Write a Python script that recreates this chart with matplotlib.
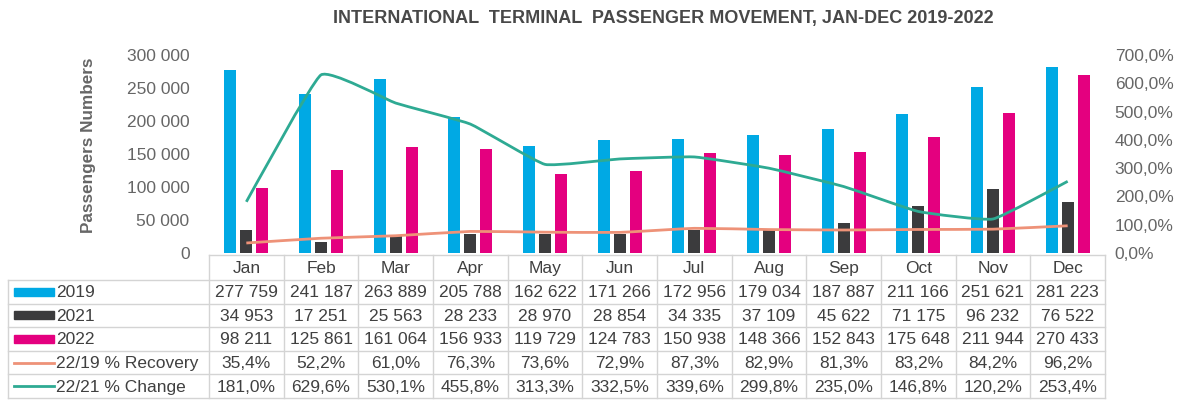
import numpy as np
import matplotlib.pyplot as plt
from matplotlib.path import Path
from matplotlib.patches import PathPatch, Rectangle
from matplotlib.lines import Line2D

plt.rcParams['font.family'] = ['Liberation Sans', 'DejaVu Sans']

months = ["Jan", "Feb", "Mar", "Apr", "May", "Jun", "Jul", "Aug", "Sep", "Oct", "Nov", "Dec"]
pax_2019 = [277759, 241187, 263889, 205788, 162622, 171266, 172956, 179034, 187887, 211166, 251621, 281223]
pax_2021 = [34953, 17251, 25563, 28233, 28970, 28854, 34335, 37109, 45622, 71175, 96232, 76522]
pax_2022 = [98211, 125861, 161064, 156933, 119729, 124783, 150938, 148366, 152843, 175648, 211944, 270433]
recovery = [35.4, 52.2, 61.0, 76.3, 73.6, 72.9, 87.3, 82.9, 81.3, 83.2, 84.2, 96.2]
change = [181.0, 629.6, 530.1, 455.8, 313.3, 332.5, 339.6, 299.8, 235.0, 146.8, 120.2, 253.4]

C_2019 = "#00A9E4"
C_2021 = "#3B3B3D"
C_2022 = "#E4007F"
C_REC = "#EE9278"
C_CHG = "#2EAA93"
TXT = "#404040"
GRID = "#D4D4D4"

W, H = 1181, 404


def fx(x):
    return x / W


def fy(y):
    return 1 - y / H


def fmt_num(v):
    return f"{v:,}".replace(",", " ")


def fmt_pct(v):
    return f"{v:.1f}%".replace(".", ",")


def smooth_path(xs, ys, k=0.06):
    # lightly smoothed line through the points (bezier segments)
    pts = np.column_stack([xs, ys]).astype(float)
    n = len(pts)
    verts = [pts[0]]
    codes = [Path.MOVETO]
    for i in range(n - 1):
        p0 = pts[i - 1] if i > 0 else pts[i]
        p1 = pts[i]
        p2 = pts[i + 1]
        p3 = pts[i + 2] if i + 2 < n else pts[i + 1]
        c1 = p1 + (p2 - p0) * k
        c2 = p2 - (p3 - p1) * k
        verts += [c1, c2, p2]
        codes += [Path.CURVE4] * 3
    return Path(verts, codes)


fig = plt.figure(figsize=(W / 100, H / 100), dpi=100)
ax = fig.add_axes([fx(209), fy(253), 896 / W, 198 / H])
ax2 = ax.twinx()

x = np.arange(len(months))
bw = 0.16
step = 0.215
ax.bar(x - step, pax_2019, bw, color=C_2019)
ax.bar(x, pax_2021, bw, color=C_2021)
ax.bar(x + step, pax_2022, bw, color=C_2022)
ax.set_xlim(-0.5, 11.5)
ax.set_ylim(0, 300000)
ax.set_yticks(range(0, 300001, 50000))
ax.set_yticklabels([fmt_num(v) for v in range(0, 300001, 50000)])
ax.set_xticks([])

ax2.add_patch(PathPatch(smooth_path(x, recovery), fill=False, edgecolor=C_REC, lw=2))
ax2.add_patch(PathPatch(smooth_path(x, change), fill=False, edgecolor=C_CHG, lw=2))
ax2.set_ylim(0, 700)
ax2.set_yticks(range(0, 701, 100))
ax2.set_yticklabels([fmt_pct(v) for v in range(0, 701, 100)])

for a in (ax, ax2):
    for s in a.spines.values():
        s.set_visible(False)
    a.tick_params(length=0, labelsize=12.5, labelcolor="#666666")
ax.tick_params(axis="y", pad=14)
ax2.tick_params(axis="y", pad=7)

ax.set_ylabel("Passengers Numbers", fontsize=12.3, color="#666666", fontweight="bold")
ax.yaxis.set_label_coords(-0.126, 0.545)

fig.text(fx(663), fy(18), "INTERNATIONAL  TERMINAL  PASSENGER MOVEMENT, JAN-DEC 2019-2022",
         ha="center", va="center", fontsize=13, fontweight="bold", color="#484848")

# data table under the chart
col_left = 209
col_w = 896 / 12
leg_left = 8
head_top = 255
row_top = 280
row_h = 23.6
n_rows = 5
table_bottom = row_top + n_rows * row_h


def hline(x0, x1, y):
    fig.add_artist(Line2D([fx(x0), fx(x1)], [fy(y), fy(y)], color=GRID, lw=1))


def vline(xp, y0, y1):
    fig.add_artist(Line2D([fx(xp), fx(xp)], [fy(y0), fy(y1)], color=GRID, lw=1))


hline(col_left, col_left + 12 * col_w, head_top)
for r in range(n_rows + 1):
    hline(leg_left, col_left + 12 * col_w, row_top + r * row_h)
vline(leg_left, row_top, table_bottom)
for c in range(13):
    vline(col_left + c * col_w, head_top, table_bottom)

for c, m in enumerate(months):
    fig.text(fx(col_left + (c + 0.5) * col_w), fy((head_top + row_top) / 2 + 1), m,
             ha="center", va="center", fontsize=12.5, color=TXT)

rows = [
    ("2019", [fmt_num(v) for v in pax_2019], "bar", C_2019),
    ("2021", [fmt_num(v) for v in pax_2021], "bar", C_2021),
    ("2022", [fmt_num(v) for v in pax_2022], "bar", C_2022),
    ("22/19 % Recovery", [fmt_pct(v) for v in recovery], "line", C_REC),
    ("22/21 % Change", [fmt_pct(v) for v in change], "line", C_CHG),
]

for r, (label, vals, kind, col) in enumerate(rows):
    yc = row_top + (r + 0.5) * row_h
    if kind == "bar":
        fig.add_artist(Rectangle((fx(14), fy(yc + 4)), 40 / W, 8 / H, color=col,
                                 transform=fig.transFigure))
    else:
        fig.add_artist(Line2D([fx(14), fx(54)], [fy(yc), fy(yc)], color=col, lw=2))
    fig.text(fx(56), fy(yc + 1), label, ha="left", va="center", fontsize=12.5, color=TXT)
    for c, v in enumerate(vals):
        fig.text(fx(col_left + (c + 0.5) * col_w), fy(yc + 1), v,
                 ha="center", va="center", fontsize=12.5, color=TXT)

fig.savefig("out.png", dpi=100, facecolor="white")
